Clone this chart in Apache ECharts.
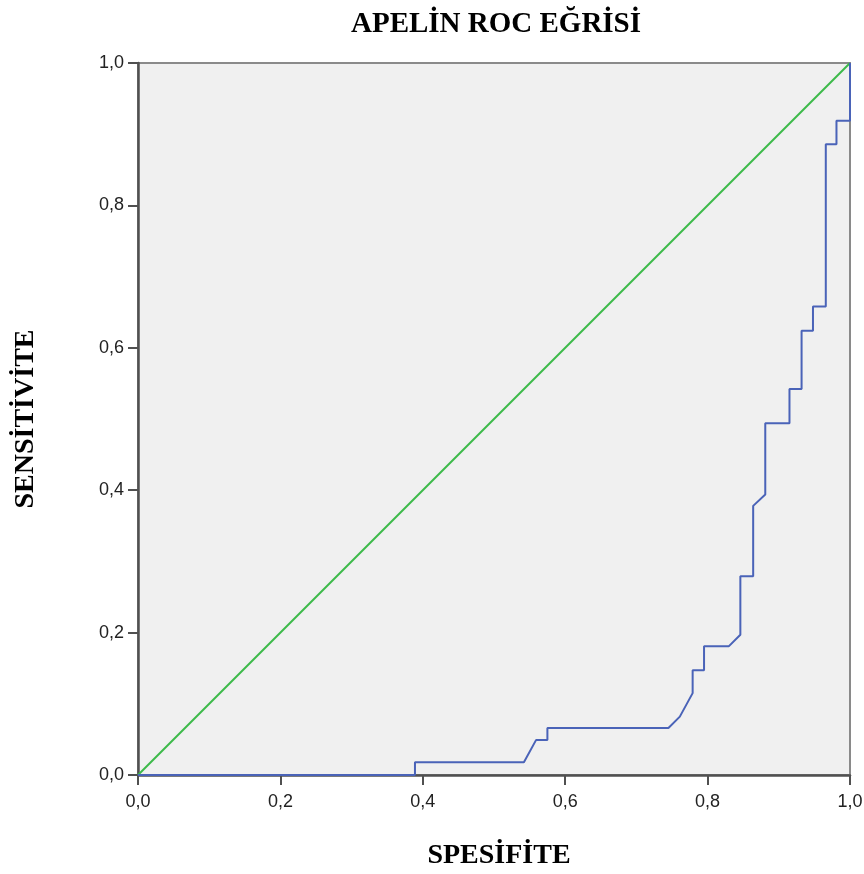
<!DOCTYPE html>
<html>
<head>
<meta charset="utf-8">
<script src="https://cdn.jsdelivr.net/npm/echarts@6/dist/echarts.min.js"></script>
<style>
html,body{margin:0;padding:0;background:#fff;}
#chart{width:864px;height:874px;}
</style>
</head>
<body>
<div id="chart"></div>
<script>
// ROC curve points (SPESİFİTE on x, SENSİTİVİTE on y)
const rocX = [0, 0.389, 0.389, 0.542, 0.559, 0.575, 0.575, 0.745, 0.761, 0.779, 0.779, 0.795, 0.795, 0.830, 0.846, 0.846, 0.864, 0.864, 0.881, 0.881, 0.915, 0.915, 0.932, 0.932, 0.948, 0.948, 0.966, 0.966, 0.981, 0.981, 1.0, 1.0];
const rocY = [0, 0, 0.018, 0.018, 0.049, 0.049, 0.066, 0.066, 0.082, 0.115, 0.147, 0.147, 0.181, 0.181, 0.197, 0.279, 0.279, 0.378, 0.394, 0.494, 0.494, 0.542, 0.542, 0.624, 0.624, 0.658, 0.658, 0.886, 0.886, 0.919, 0.919, 1.0];
// chance (reference) diagonal
const refX = [0, 1];
const refY = [0, 1];
const tickStep = 0.2;

const chart = echarts.init(document.getElementById('chart'), null, {renderer: 'canvas'});
const fmt = v => v.toFixed(1).replace('.', ',');
const serif = 'Liberation Serif, Times New Roman, serif';
const labelStyle = {color: '#222', fontFamily: 'Liberation Sans, Arial, sans-serif', fontSize: 18};

chart.setOption({
  animation: false,
  title: {
    text: 'APELİN ROC EĞRİSİ',
    left: 491, top: 5, textAlign: 'center',
    textStyle: {fontFamily: serif, fontWeight: 'bold', fontSize: 29, color: '#000'}
  },
  grid: {
    left: 138, right: 14, top: 63, bottom: 99,
    outerBoundsMode: 'none', containLabel: false,
    show: true, backgroundColor: '#f0f0f0', borderColor: '#8a8a8a', borderWidth: 2
  },
  xAxis: {
    type: 'value', min: 0, max: 1, interval: tickStep,
    name: 'SPESİFİTE', nameLocation: 'middle', nameGap: 67,
    nameTextStyle: {fontFamily: serif, fontWeight: 'bold', fontSize: 28, color: '#000', padding: [0, 0, 0, 10]},
    axisLine: {show: true, onZero: false, lineStyle: {color: '#505050', width: 2.5}},
    axisTick: {show: true, length: 10, lineStyle: {color: '#505050', width: 2}},
    axisLabel: Object.assign({formatter: fmt, margin: 18}, labelStyle),
    splitLine: {show: false}
  },
  yAxis: {
    type: 'value', min: 0, max: 1, interval: tickStep,
    name: 'SENSİTİVİTE', nameLocation: 'middle', nameGap: 98, nameRotate: 90,
    nameTextStyle: {fontFamily: serif, fontWeight: 'bold', fontSize: 28, color: '#000'},
    axisLine: {show: true, onZero: false, lineStyle: {color: '#505050', width: 2.5}},
    axisTick: {show: true, length: 10, lineStyle: {color: '#505050', width: 2}},
    axisLabel: Object.assign({formatter: fmt, margin: 14}, labelStyle),
    splitLine: {show: false}
  },
  series: [
    {
      type: 'line', name: 'Referans',
      data: refX.map((x, i) => [x, refY[i]]),
      showSymbol: false, lineStyle: {color: '#3cba4a', width: 2}, z: 2
    },
    {
      type: 'line', name: 'APELİN',
      data: rocX.map((x, i) => [x, rocY[i]]),
      showSymbol: false, lineStyle: {color: '#4a63b8', width: 2}, z: 3
    }
  ]
});
</script>
</body>
</html>
